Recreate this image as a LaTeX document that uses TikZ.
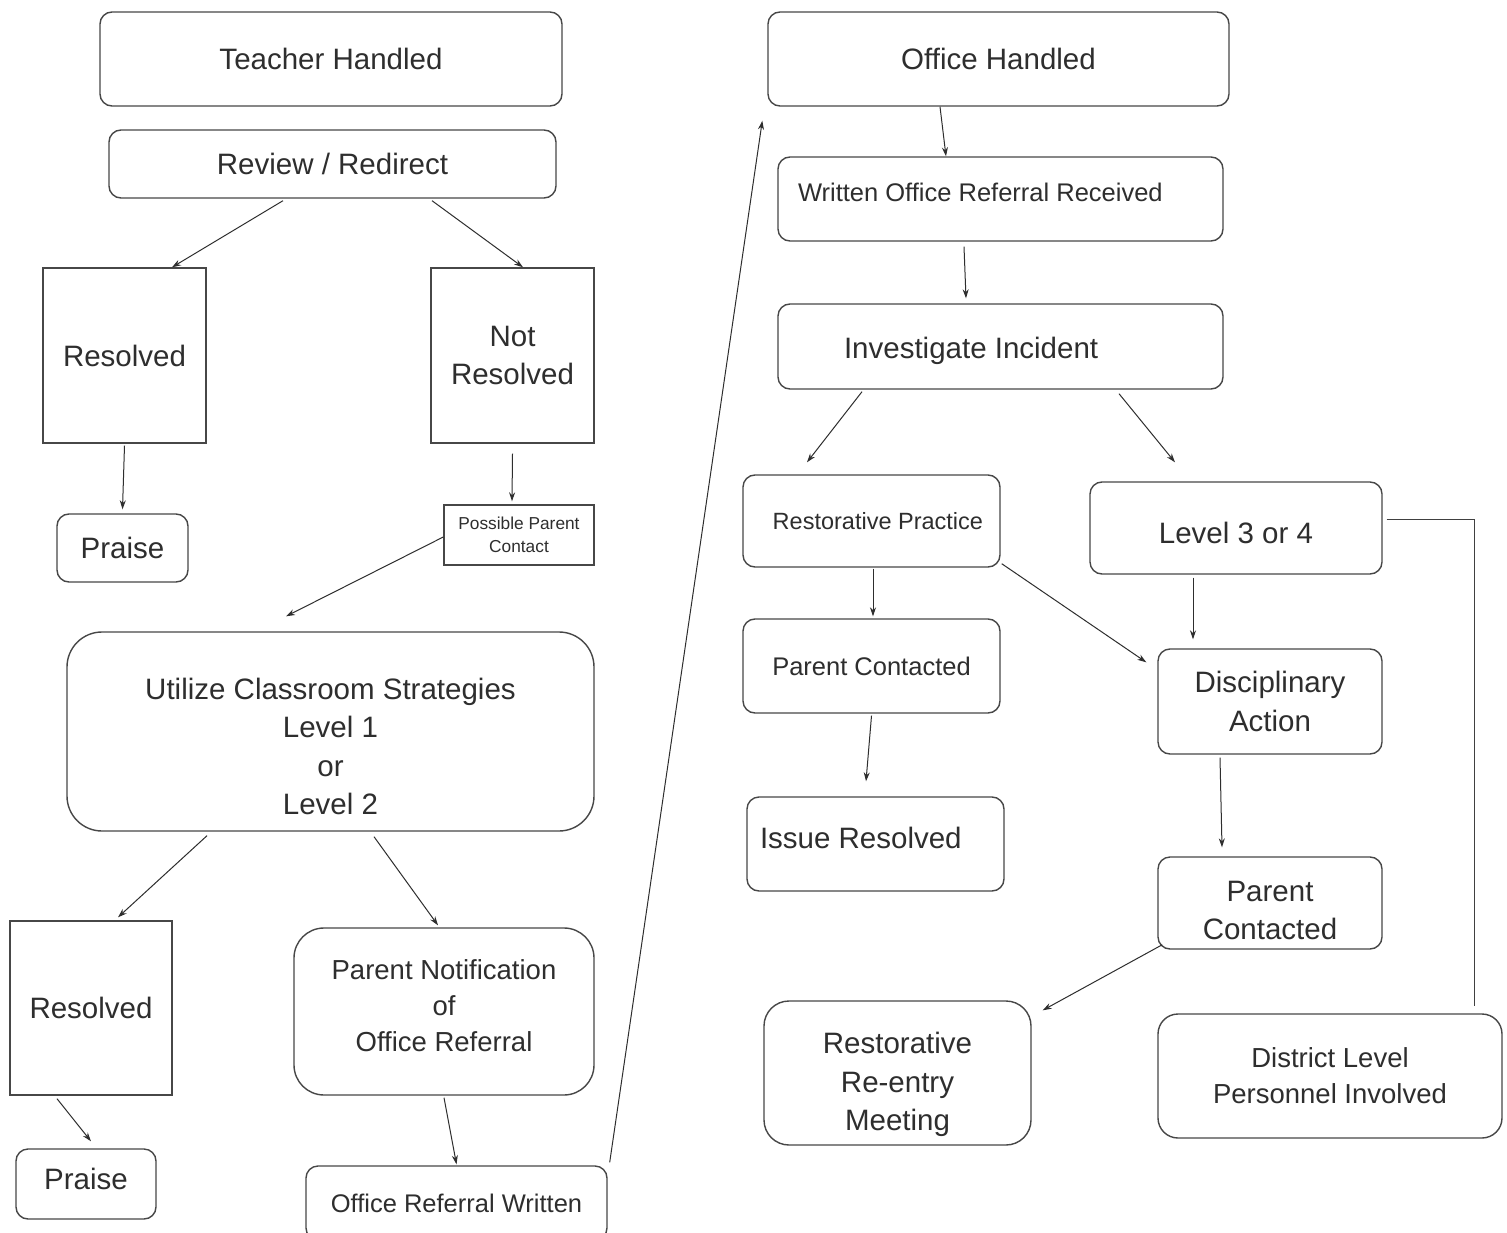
\documentclass[tikz,border=0pt]{standalone}
\usepackage{fontspec}
\setmainfont{Liberation Sans}
\usepackage{tikz}
\usetikzlibrary{positioning, arrows.meta, arrows}

\tikzset{
  rbox/.style={draw=black!72, line width=1.4pt, rounded corners=12pt, inner sep=0pt, align=center, text=black!82},
  sbox/.style={rbox, sharp corners},
  arr/.style={-{Stealth[length=9pt,width=6pt]}, line width=1pt, draw=black!82},
  fbig/.style={font=\fontsize{29.5}{38.5}\selectfont},
  fmid/.style={font=\fontsize{27.5}{35.8}\selectfont},
  fsml/.style={font=\fontsize{25.5}{34}\selectfont},
  frp/.style={font=\fontsize{23.5}{30}\selectfont},
  ftiny/.style={font=\fontsize{17.3}{23}\selectfont}
}

\begin{document}
\begin{tikzpicture}[x=1pt, y=-1pt]

    \useasboundingbox[fill=white] (0,0) rectangle (1507,1233);

    % teacher side
    \node[rbox, fbig, minimum width=462pt, minimum height=94pt] (th) at (331,59) {Teacher Handled};
    \node[rbox, fbig, minimum width=447pt, minimum height=68pt] (rr) at (332.5,164) {Review / Redirect};
    \node[sbox, fbig, minimum width=163pt, minimum height=175pt] (res1) at (124.5,355.5) {Resolved};
    \node[sbox, fbig, minimum width=163pt, minimum height=175pt] (nres) at (512.5,355.5) {Not\\Resolved};
    \node[rbox, fbig, minimum width=131pt, minimum height=68pt] (pr1) at (122.5,548) {Praise};
    \node[sbox, ftiny, minimum width=150pt, minimum height=60pt] (ppc) at (519,535) {Possible Parent\\Contact};
    \node[rbox, fbig, rounded corners=35pt, text height=167pt, minimum width=527pt, minimum height=199pt] (ucs)
        at (330.5,731.5) {Utilize Classroom Strategies\\Level 1\\or\\Level 2};
    \node[sbox, fbig, minimum width=162pt, minimum height=174pt] (res2) at (91,1008) {Resolved};
    \node[rbox, fmid, rounded corners=30pt, text depth=12pt, minimum width=300pt, minimum height=167pt] (pno)
        at (444,1011.5) {Parent Notification\\of\\Office Referral};
    \node[rbox, fbig, text depth=10pt, minimum width=140pt, minimum height=70pt] (pr2) at (86,1184) {Praise};
    \node[rbox, fsml, minimum width=301pt, minimum height=74pt] (orw) at (456.5,1203) {Office Referral Written};

    % office side
    \node[rbox, fbig, minimum width=461pt, minimum height=94pt] (oh) at (998.5,59) {Office Handled};
    \node[rbox, fsml, text width=405pt, align=flush left, text depth=14pt, minimum width=445pt, minimum height=84pt]
        (worr) at (1000.5,199) {Written Office Referral Received};
    \node[rbox, fbig, text width=313pt, align=flush left, text height=29.5pt, minimum width=445pt, minimum height=85pt]
        (ii) at (1000.5,346.5) {Investigate Incident};
    \node[rbox, frp, text width=223pt, align=flush right, minimum width=257pt, minimum height=92pt] (rp)
        at (871.5,521) {Restorative Practice};
    \node[rbox, fbig, text height=31.5pt, minimum width=292pt, minimum height=92pt] (l34) at (1236,528) {Level 3 or 4};
    \node[rbox, fsml, minimum width=257pt, minimum height=94pt] (pcl) at (871.5,666) {Parent Contacted};
    \node[rbox, fbig, minimum width=224pt, minimum height=105pt] (da) at (1270,701.5) {Disciplinary\\Action};
    \node[rbox, fbig, text width=231pt, align=flush left, text depth=12pt, minimum width=257pt, minimum height=94pt]
        (ir) at (875.5,844) {Issue Resolved};
    \node[rbox, fbig, text height=74pt, minimum width=224pt, minimum height=92pt] (pcr) at (1270,903)
        {Parent\\Contacted};
    \node[rbox, fbig, rounded corners=25pt, text height=122pt, minimum width=267pt, minimum height=144pt] (rrm)
        at (897.5,1073) {Restorative\\Re-entry\\Meeting};
    \node[rbox, fmid, rounded corners=20pt, minimum width=344pt, minimum height=124pt] (dlp) at (1330,1076)
        {District Level\\Personnel Involved};

    % connectors, teacher side
    \draw[arr] ([xshift=-49.5pt,yshift=-2pt]rr.south) -- ([xshift=47.5pt]res1.north);
    \draw[arr] ([xshift=99.5pt,yshift=-2pt]rr.south) -- ([xshift=10.5pt]nres.north);
    \draw[arr] ([yshift=-2pt]res1.south) -- ([yshift=4pt]pr1.north);
    \draw[arr] ([yshift=-10pt]nres.south) -- ([xshift=-7pt,yshift=3pt]ppc.north);
    \draw[arr] ([yshift=-2pt]ppc.west) -- ([xshift=-44.5pt,yshift=15pt]ucs.north);
    \draw[arr] ([xshift=-123.5pt,yshift=-4pt]ucs.south) -- ([xshift=27pt,yshift=3pt]res2.north);
    \draw[arr] ([xshift=43.5pt,yshift=-5pt]ucs.south) -- ([xshift=-6pt,yshift=2pt]pno.north);
    \draw[arr] ([xshift=-34pt,yshift=-3pt]res2.south) -- ([xshift=5pt,yshift=7pt]pr2.north);
    \draw[arr] ([yshift=-2pt]pno.south) -- ([yshift=1pt]orw.north);
    \draw[arr] ([xshift=2pt,yshift=3pt]orw.north east) -- ([xshift=-5pt,yshift=-14pt]oh.south west);

    % connectors, office side
    \draw[arr] ([xshift=-58.5pt]oh.south) -- ([xshift=-54.5pt]worr.north);
    \draw[arr] ([xshift=-36.5pt,yshift=-5pt]worr.south) -- ([xshift=-34.5pt,yshift=5pt]ii.north);
    \draw[arr] ([xshift=-138.5pt,yshift=-2pt]ii.south) -- ([xshift=-64.5pt,yshift=12pt]rp.north);
    \draw[arr] ([xshift=118.5pt,yshift=-4pt]ii.south) -- ([xshift=-61pt,yshift=19pt]l34.north);
    \draw[arr] ([xshift=1.5pt,yshift=-1pt]rp.south) -- ([xshift=1.5pt,yshift=2pt]pcl.north);
    \draw[arr] ([xshift=1pt,yshift=4pt]rp.south east) -- ([xshift=-11pt,yshift=-14pt]da.north west);
    \draw[arr] ([xshift=-43pt,yshift=-3pt]l34.south) -- ([xshift=-77pt,yshift=9pt]da.north);
    \draw[arr] ([yshift=-2pt]pcl.south) -- ([xshift=-9.5pt,yshift=15pt]ir.north);
    \draw[arr] ([xshift=-50pt,yshift=-3pt]da.south) -- ([xshift=-48pt,yshift=9pt]pcr.north);
    \draw[arr] ([xshift=5pt,yshift=5pt]pcr.south west) -- ([xshift=11pt,yshift=-10pt]rrm.north east);
    \draw[line width=1pt, draw=black!75] ([xshift=4pt,yshift=9pt]l34.east) -| ([xshift=144pt,yshift=7pt]dlp.north);

\end{tikzpicture}
\end{document}
